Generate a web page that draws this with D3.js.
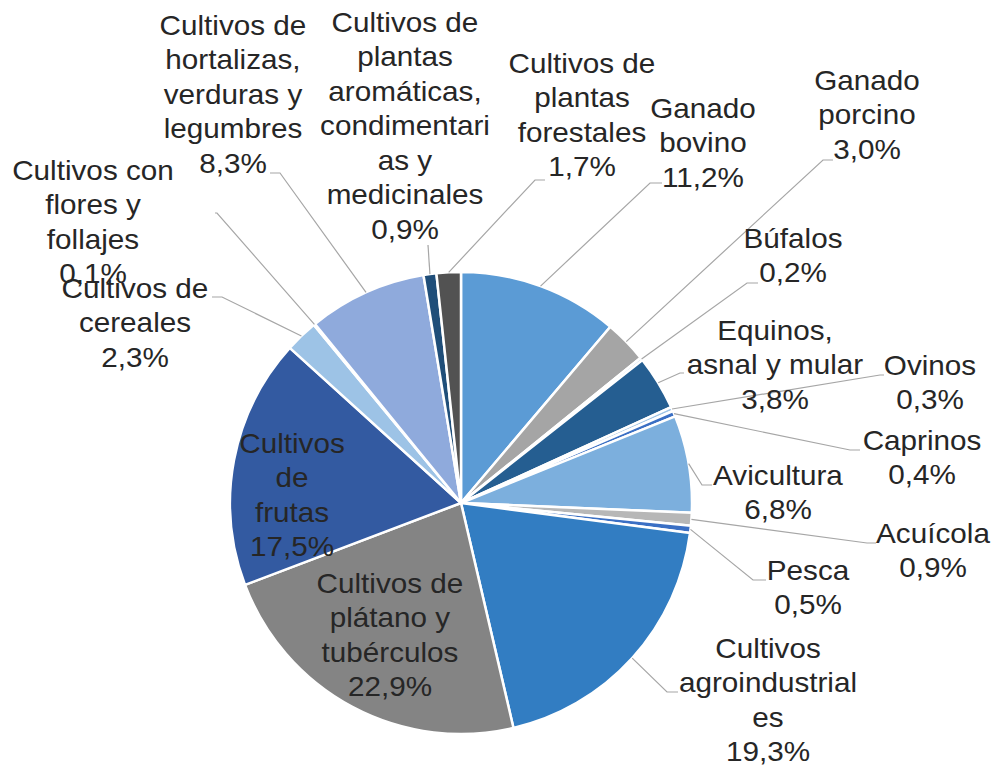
<!DOCTYPE html>
<html>
    <head>
        <meta charset="utf-8">
        <title>Pie - Actividades agropecuarias</title>
        <style>
            body { margin: 0; background: #fff; }
            text { font-family: "Liberation Sans", Arial, sans-serif; }
        </style>
    </head>

    <body>
        <div id="chart"></div>

        <script src="https://cdn.jsdelivr.net/npm/d3@7/dist/d3.min.js"></script>
        <script>
            // categories as printed (\n = line break in the picture)
            var categories = [
                "Ganado\nbovino", "Ganado\nporcino", "Búfalos", "Equinos,\nasnal y mular",
                "Ovinos", "Caprinos", "Avicultura", "Acuícola", "Pesca",
                "Cultivos\nagroindustrial\nes", "Cultivos de\nplátano y\ntubérculos",
                "Cultivos\nde\nfrutas", "Cultivos de\ncereales", "Cultivos con\nflores y\nfollajes",
                "Cultivos de\nhortalizas,\nverduras y\nlegumbres",
                "Cultivos de\nplantas\naromáticas,\ncondimentari\nas y\nmedicinales",
                "Cultivos de\nplantas\nforestales"
            ];
            var values = [11.2, 3.0, 0.2, 3.8, 0.3, 0.4, 6.8, 0.9, 0.5, 19.3, 22.9, 17.5, 2.3, 0.1, 8.3, 0.9, 1.7];
            var colors = [
                "#5b9bd5", "#a5a5a5", "#c9d9ee", "#255e91", "#9dc3e6", "#3a6fc4",
                "#7cafdd", "#b7b7b7", "#3a6fc4", "#327dc2", "#848484", "#335aa1",
                "#9dc3e6", "#a9c4eb", "#8faadc", "#1f4e79", "#525252"
            ];

            // label layout: centre x, first baseline, elbow point, end of short horizontal
            // inside = label drawn on the slice, no leader
            var labelLayout = [
                { x: 703, y: 118, ex: 650, ey: 183, hx: 662 },
                { x: 867, y: 90,  ex: 823, ey: 160, hx: 833 },
                { x: 793, y: 248, ex: 747, ey: 283, hx: 758 },
                { x: 775, y: 340, ex: 680, ey: 373, hx: 684 },
                { x: 930, y: 375, ex: 880, ey: 375, hx: 884 },
                { x: 922, y: 450, ex: 850, ey: 450, hx: 860 },
                { x: 778, y: 485, ex: 702, ey: 485, hx: 712 },
                { x: 933, y: 543, ex: 867, ey: 543, hx: 876 },
                { x: 808, y: 580, ex: 753, ey: 580, hx: 766 },
                { x: 768, y: 658, ex: 667, ey: 692, hx: 678 },
                { x: 390, y: 593, inside: true },
                { x: 292, y: 453, inside: true },
                { x: 135, y: 298, ex: 222, ey: 297, hx: 212 },
                { x: 93,  y: 180, ex: 217, ey: 213, hx: 215 },
                { x: 233, y: 35,  ex: 280, ey: 173, hx: 270 },
                { x: 405, y: 32,  ex: 428, ey: 245, hx: 428 },
                { x: 582, y: 73,  ex: 535, ey: 180, hx: 545 }
            ];

            function fmt(v) { return v.toFixed(1).replace(".", ",") + "%"; }

            function loadPieChart(pieDiv, chartProperties) {
                var svg = pieDiv.append("svg")
                    .attr("width", chartProperties.w)
                    .attr("height", chartProperties.h);

                var pie = d3.pie().sort(null).value(function(d) { return d; });
                var arcs = pie(values);

                var arc = d3.arc().innerRadius(0).outerRadius(chartProperties.r);
                var edge = d3.arc().innerRadius(chartProperties.r).outerRadius(chartProperties.r);

                var g = svg.append("g")
                    .attr("transform", "translate(" + chartProperties.cx + "," + chartProperties.cy + ")");

                g.selectAll(".slice")
                    .data(arcs)
                    .enter().append("path")
                        .attr("class", "slice")
                        .attr("d", arc)
                        .style("fill", function(d, i) { return colors[i]; })
                        .style("stroke", "#fff")
                        .style("stroke-width", 2.5)
                        .style("stroke-linejoin", "round");

                // leader lines
                svg.selectAll(".leader")
                    .data(arcs.filter(function(d, i) { return !labelLayout[i].inside; }))
                    .enter().append("polyline")
                        .attr("class", "leader")
                        .attr("points", function(d) {
                            var L = labelLayout[d.index];
                            var c = edge.centroid(d);
                            return [
                                [chartProperties.cx + c[0], chartProperties.cy + c[1]],
                                [L.ex, L.ey],
                                [L.hx, L.ey]
                            ].join(" ");
                        })
                        .style("fill", "none")
                        .style("stroke", "#a6a6a6")
                        .style("stroke-width", 1.2);

                // labels (the original text is a little wider than Arial)
                var labels = svg.selectAll(".label")
                    .data(arcs)
                    .enter().append("text")
                        .attr("class", "label")
                        .attr("text-anchor", "middle")
                        .attr("transform", function(d, i) {
                            var x = labelLayout[i].x;
                            return "translate(" + x + ",0) scale(1.06,1) translate(" + (-x) + ",0)";
                        })
                        .style("font-size", "28px")
                        .style("fill", "#262626");

                labels.each(function(d, i) {
                    var L = labelLayout[i];
                    var lines = categories[i].split("\n").concat([fmt(values[i])]);
                    d3.select(this).selectAll("tspan")
                        .data(lines)
                        .enter().append("tspan")
                            .attr("x", L.x)
                            .attr("y", function(t, k) { return L.y + k * 34.5; })
                            .text(function(t) { return t; });
                });
            }

            loadPieChart(d3.select("#chart"), { w: 996, h: 770, cx: 461, cy: 503, r: 231 });
        </script>
    </body>
</html>
